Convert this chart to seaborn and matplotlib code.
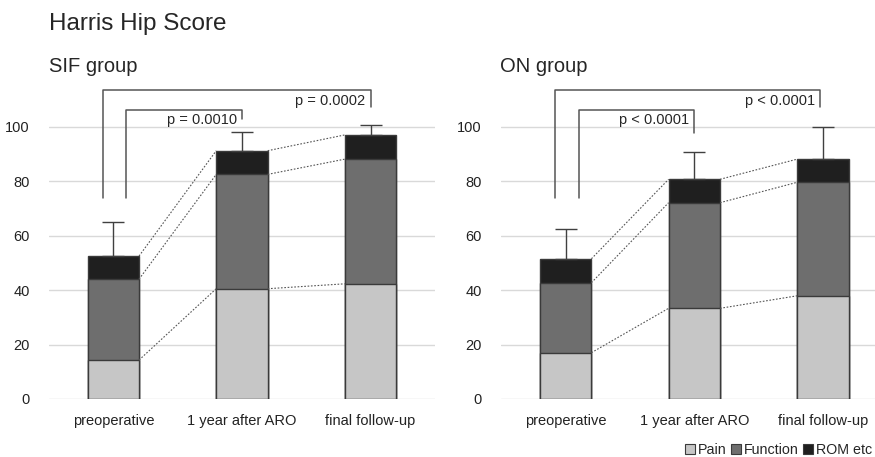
import numpy as np
import pandas as pd
import matplotlib
matplotlib.use("Agg")
import matplotlib.pyplot as plt
import seaborn as sns
from matplotlib.patches import Patch

stages = ["preoperative", "1 year after ARO", "final follow-up"]
components = ["Pain", "Function", "ROM etc"]

# mean sub-scores
sif_pain = [14.3, 40.5, 42.3]
sif_function = [29.7, 42.0, 45.8]
sif_rom = [8.5, 8.7, 8.9]
sif_sd = [12.6, 6.8, 3.7]

on_pain = [17.0, 33.3, 37.9]
on_function = [25.7, 38.8, 41.7]
on_rom = [8.8, 8.6, 8.5]
on_sd = [10.9, 9.9, 11.9]

sif_p = ["p = 0.0010", "p = 0.0002"]
on_p = ["p < 0.0001", "p < 0.0001"]

colors = {"Pain": "#c6c6c6", "Function": "#6e6e6e", "ROM etc": "#1f1f1f"}
edge = "#3a3a3a"
bar_w = 0.4

sns.set_theme(style="white")
plt.rcParams["font.family"] = ["Liberation Sans", "DejaVu Sans"]


def draw_panel(ax, pain, function, rom, sd, pvals, inner_right, outer_right):
    df = pd.DataFrame({"stage": stages, "Pain": pain, "Function": function, "ROM etc": rom})
    df["lvl1"] = df["Pain"]
    df["lvl2"] = df["Pain"] + df["Function"]
    df["lvl3"] = df["lvl2"] + df["ROM etc"]
    # stack by overlaying the cumulative totals, tallest first
    for col, comp in [("lvl3", "ROM etc"), ("lvl2", "Function"), ("lvl1", "Pain")]:
        sns.barplot(data=df, x="stage", y=col, color=colors[comp], width=bar_w,
                    edgecolor=edge, linewidth=1.0, saturation=1, ax=ax)
    x = np.arange(len(stages))
    ax.errorbar(x, df["lvl3"], yerr=[np.zeros(len(sd)), sd], fmt="none",
                ecolor="#404040", elinewidth=1.0, capsize=8, capthick=1.0, zorder=3)
    # dotted connectors between bar segments
    for col in ["lvl1", "lvl2", "lvl3"]:
        v = df[col].values
        for i in range(len(v) - 1):
            ax.plot([x[i] + bar_w / 2, x[i + 1] - bar_w / 2], [v[i], v[i + 1]],
                    color="#555555", lw=0.8, ls=(0, (1.5, 1.5)), zorder=1)
    # significance brackets
    c = "#555555"
    ax.plot([-0.08, -0.08, 2 + outer_right, 2 + outer_right], [73.7, 113.5, 113.5, 107.3],
            color=c, lw=1.1, clip_on=False)
    ax.plot([0.1, 0.1, 1.0, 1.0], [73.7, 106.3, 106.3, inner_right],
            color=c, lw=1.1, clip_on=False)
    ax.text(0.96, 102.6, pvals[0], ha="right", va="center", fontsize=10.5)
    ax.text(1.96 + outer_right, 109.3, pvals[1], ha="right", va="center", fontsize=10.5)

    ax.set_xlim(-0.5, 2.5)
    ax.set_ylim(0, 115)
    ax.set_yticks([0, 20, 40, 60, 80, 100])
    ax.yaxis.grid(True, color="#d9d9d9", lw=1.0)
    ax.set_axisbelow(True)
    ax.set_xlabel("")
    ax.set_ylabel("")
    ax.tick_params(axis="both", length=0, labelsize=10.5, colors="#222222")
    ax.tick_params(axis="y", pad=14)
    ax.tick_params(axis="x", pad=11)
    sns.despine(ax=ax, left=True, top=True, right=True, bottom=True)


fig = plt.figure(figsize=(8.75, 4.57), dpi=100)
ax1 = fig.add_axes([0.056, 0.127, 0.441, 0.685])
ax2 = fig.add_axes([0.573, 0.127, 0.441, 0.685])

draw_panel(ax1, sif_pain, sif_function, sif_rom, sif_sd, sif_p, 103.0, 0.0)
draw_panel(ax2, on_pain, on_function, on_rom, on_sd, on_p, 97.8, -0.02)

fig.text(0.056, 1 - 24 / 457, "Harris Hip Score", fontsize=17.5, va="center", ha="left")
fig.text(0.056, 1 - 66 / 457, "SIF group", fontsize=14.5, va="center", ha="left")
fig.text(0.571, 1 - 66 / 457, "ON group", fontsize=14.5, va="center", ha="left")

handles = [Patch(facecolor=colors[k], edgecolor=edge, linewidth=0.8) for k in components]
fig.legend(handles, components, loc="lower left", bbox_to_anchor=(0.776, -0.012),
           ncol=3, frameon=False, fontsize=10.3, handlelength=0.75, handleheight=0.75,
           handletextpad=0.15, columnspacing=0.3, borderaxespad=0)

fig.savefig("out.png", dpi=100)
